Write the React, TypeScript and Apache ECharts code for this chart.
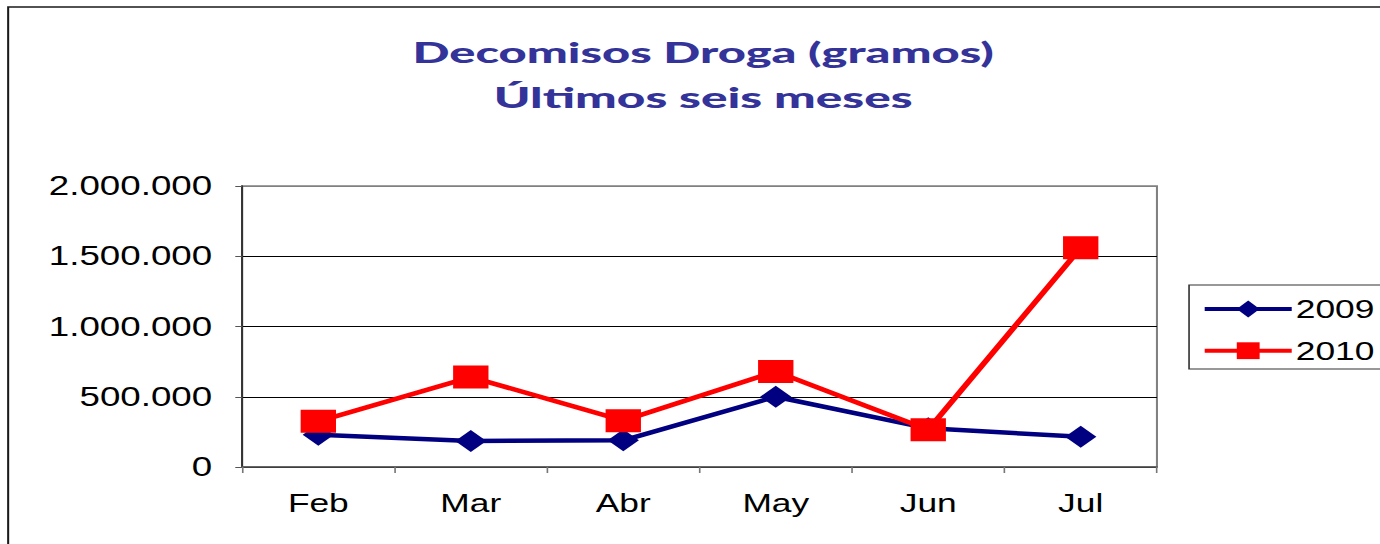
import React, { useEffect, useRef } from "react";
import * as echarts from "echarts";

const months = ["Feb", "Mar", "Abr", "May", "Jun", "Jul"];
const values2009 = [230000, 185000, 190000, 500000, 275000, 215000];
const values2010 = [325000, 640000, 330000, 680000, 265000, 1560000];
const titleLines = ["Decomisos Droga (gramos)", "Últimos seis meses"];
const seriesNames = ["2009", "2010"];

const SX = 1.36;
const W = 1015;
const H = 544;

function fmt(v: number): string {
  return String(Math.round(v)).replace(/\B(?=(\d{3})+(?!\d))/g, ".");
}

export default function App() {
  const ref = useRef<HTMLDivElement>(null);
  useEffect(() => {
    if (!ref.current) return;
    const chart = echarts.init(ref.current, null, { renderer: "svg" });
    const axisFont = { fontFamily: "Liberation Sans, Arial, sans-serif", fontSize: 27, color: "#000" };
    chart.setOption({
      animation: false,
      backgroundColor: "#fff",
      graphic: [
        {
          type: "rect",
          shape: { x: 6, y: 7, width: 3000, height: 3000 },
          style: { fill: "none", stroke: "#1a1a1a", lineWidth: 1.5 },
          silent: true,
          z: -1,
        },
        {
          type: "text",
          x: 517,
          y: 52,
          scaleX: 1.28,
          style: {
            text: titleLines[0],
            fill: "#333399",
            font: "900 28px Lato, 'Open Sans', sans-serif",
            align: "center",
            verticalAlign: "middle",
          },
        },
        {
          type: "text",
          x: 517,
          y: 97,
          scaleX: 1.3,
          style: {
            text: titleLines[1],
            fill: "#333399",
            font: "900 28px Lato, 'Open Sans', sans-serif",
            align: "center",
            verticalAlign: "middle",
          },
        },
        {
          type: "rect",
          shape: { x: 874.3, y: 285, width: 400, height: 84 },
          style: { fill: "#fff", stroke: "#333", lineWidth: 1.2 },
          z: 0,
        },
      ],
      legend: {
        orient: "vertical",
        left: 883.8,
        top: 296,
        padding: 0,
        itemWidth: 64,
        itemHeight: 21,
        itemGap: 15.7,
        z: 10,
        lineStyle: { width: 4 },
        textStyle: { fontFamily: "Liberation Sans, Arial, sans-serif", fontSize: 26, color: "#000", padding: [0, 0, 0, -2] },
        data: seriesNames,
      },
      grid: {
        left: 178,
        right: W - 850.7,
        top: 186,
        bottom: 77,
        show: true,
        borderColor: "#808080",
        borderWidth: 1.5,
        backgroundColor: "transparent",
      },
      xAxis: {
        type: "category",
        data: months,
        boundaryGap: true,
        axisLine: { show: true, lineStyle: { color: "#555", width: 1.5 } },
        axisTick: { show: true, length: 6, alignWithLabel: false, lineStyle: { color: "#777", width: 1.2 } },
        axisLabel: { ...axisFont, fontSize: 26, margin: 23 },
        splitLine: { show: false },
      },
      yAxis: {
        type: "value",
        min: 0,
        max: 2000000,
        interval: 500000,
        axisLine: { show: true, lineStyle: { color: "#333", width: 1.5 } },
        axisTick: { show: true, length: 5, lineStyle: { color: "#555", width: 1 } },
        axisLabel: { ...axisFont, margin: 22, formatter: (v: number) => fmt(v) },
        splitLine: { show: true, lineStyle: { color: ["#000", "#000", "#000", "#000", "#808080"], width: 1 } },
      },
      series: [
        {
          name: seriesNames[0],
          type: "line",
          data: values2009,
          symbol: "diamond",
          symbolSize: [23, 22],
          color: "#000080",
          lineStyle: { color: "#000080", width: 4.5 },
          itemStyle: { color: "#000080" },
          z: 3,
        },
        {
          name: seriesNames[1],
          type: "line",
          data: values2010,
          symbol: "rect",
          symbolSize: [26, 23],
          color: "#ff0000",
          lineStyle: { color: "#ff0000", width: 4.5 },
          itemStyle: { color: "#ff0000" },
          z: 4,
        },
      ],
    });
    return () => chart.dispose();
  }, []);
  return (
    <div
      ref={ref}
      style={{
        position: "fixed",
        left: 0,
        top: 0,
        width: W,
        height: H,
        transform: `scaleX(${SX})`,
        transformOrigin: "0 0",
      }}
    />
  );
}
